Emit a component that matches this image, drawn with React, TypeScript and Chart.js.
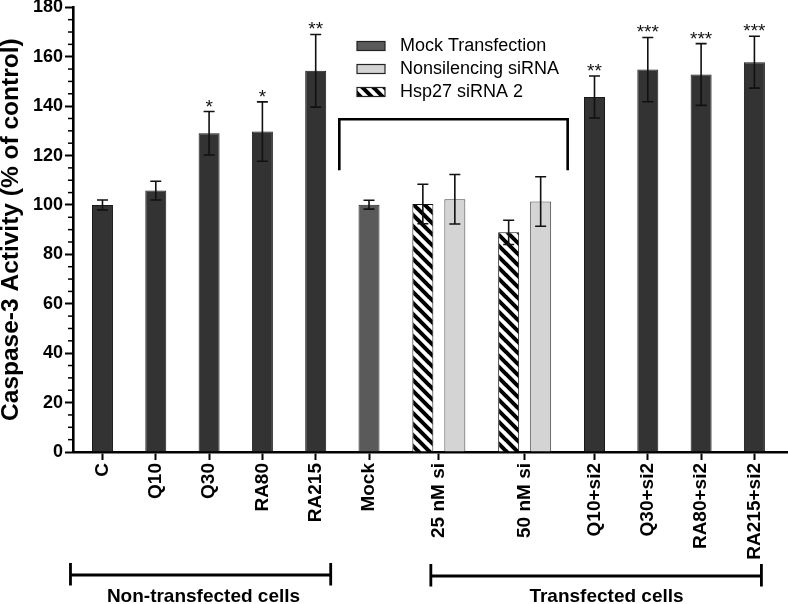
import { useEffect, useRef } from 'react';
import { Chart, registerables, CategoryScale } from 'chart.js';

Chart.register(...registerables);

// ---------------- data ----------------
const categories = ['C', 'Q10', 'Q30', 'RA80', 'RA215', 'Mock', '25 nM si', '50 nM si', 'Q10+si2', 'Q30+si2', 'RA80+si2', 'RA215+si2'];
const treatmentMeans = [100, 105.8, 129, 129.7, 154.3, null, null, null, 143.7, 154.8, 152.8, 157.8];
const treatmentErrors = [2, 3.8, 8.8, 12, 14.7, null, null, null, 8.5, 13, 12.5, 10.5];
const mockMeans = [null, null, null, null, null, 100.1, null, null, null, null, null, null];
const mockErrors = [null, null, null, null, null, 1.8, null, null, null, null, null, null];
const hsp27Means = [null, null, null, null, null, null, 100.4, 88.9, null, null, null, null];
const hsp27Errors = [null, null, null, null, null, null, 8, 4.9, null, null, null, null];
const nonsilMeans = [null, null, null, null, null, null, 102.3, 101.4, null, null, null, null];
const nonsilErrors = [null, null, null, null, null, null, 10, 10, null, null, null, null];
const significance = ['', '', '*', '*', '**', '', '', '', '**', '***', '***', '***'];
const legendLabels = ['Mock Transfection', 'Nonsilencing siRNA', 'Hsp27 siRNA 2'];
const groupLabels = ['Non-transfected cells', 'Transfected cells'];
const yTitle = 'Caspase-3 Activity (% of control)';

const FONT = "'Liberation Sans', Arial, sans-serif";

// Category scale with uneven spacing between categories
class GappedCategoryScale extends CategoryScale {
  static id = 'gappedCategory';
  getPixelForValue(value: any) {
    let v: any = value;
    if (typeof v !== 'number') v = (this as any).parse(v);
    if (v === null || v === undefined || Number.isNaN(v)) return NaN;
    const o: any = this.options;
    const gaps: number[] = o.gaps || [];
    const n = this.getLabels().length;
    const cum: number[] = [0];
    for (let i = 1; i < n; i++) cum.push(cum[i - 1] + (gaps[i - 1] ?? 1));
    const total = o.padStart + cum[n - 1] + o.padEnd;
    const i0 = Math.max(0, Math.min(n - 1, Math.floor(v)));
    const frac = v - i0;
    const next = i0 + 1 < n ? cum[i0 + 1] : cum[i0] + 1;
    const u = cum[i0] + frac * (next - cum[i0]);
    return this.getPixelForDecimal((o.padStart + u) / total);
  }
}
Chart.register(GappedCategoryScale as any);

function makeHatch(): CanvasPattern | string {
  const s = 11;
  const c = document.createElement('canvas');
  c.width = s;
  c.height = s;
  const g = c.getContext('2d');
  if (!g) return '#000';
  g.fillStyle = '#fff';
  g.fillRect(0, 0, s, s);
  g.strokeStyle = '#000';
  g.lineWidth = 4;
  g.beginPath();
  for (let k = -1; k <= 1; k++) {
    g.moveTo(-1, k * s - 1);
    g.lineTo(s + 1, k * s + s + 1);
  }
  g.stroke();
  return g.createPattern(c, 'repeat') || '#000';
}

export default function App() {
  const ref = useRef<HTMLCanvasElement>(null);

  useEffect(() => {
    if (!ref.current) return;
    const hatch = makeHatch();
    const errorSets = [treatmentErrors, mockErrors, hsp27Errors, nonsilErrors];

    const overlay = {
      id: 'overlay',
      afterDatasetsDraw(chart: any) {
        const ctx = chart.ctx as CanvasRenderingContext2D;
        const y = chart.scales.y;
        const x = chart.scales.x;
        ctx.save();
        // error bars
        ctx.strokeStyle = '#111';
        ctx.lineWidth = 1.6;
        chart.data.datasets.forEach((ds: any, d: number) => {
          const meta = chart.getDatasetMeta(d);
          ds.data.forEach((m: number | null, j: number) => {
            const e = errorSets[d][j];
            if (m === null || e === null) return;
            const bar = meta.data[j];
            const yt = y.getPixelForValue(m + e);
            const yb = y.getPixelForValue(m - e);
            ctx.beginPath();
            ctx.moveTo(bar.x, yt);
            ctx.lineTo(bar.x, yb);
            ctx.moveTo(bar.x - 5.5, yt);
            ctx.lineTo(bar.x + 5.5, yt);
            ctx.moveTo(bar.x - 5.5, yb);
            ctx.lineTo(bar.x + 5.5, yb);
            ctx.stroke();
          });
        });
        // significance stars
        const meta0 = chart.getDatasetMeta(0);
        ctx.fillStyle = '#111';
        ctx.font = `19px ${FONT}`;
        ctx.textAlign = 'center';
        ctx.textBaseline = 'alphabetic';
        significance.forEach((s, j) => {
          const m = treatmentMeans[j];
          const e = treatmentErrors[j];
          if (!s || m === null || e === null) return;
          const bar = meta0.data[j];
          ctx.fillText(s, bar.x, y.getPixelForValue(m + e) + 1);
        });
        // minor ticks on y axis
        ctx.strokeStyle = '#000';
        ctx.lineWidth = 1.5;
        const left = chart.chartArea.left;
        for (let v = 5; v < 180; v += 5) {
          if (v % 20 === 0) continue;
          const py = y.getPixelForValue(v);
          ctx.beginPath();
          ctx.moveTo(left - 5, py);
          ctx.lineTo(left, py);
          ctx.stroke();
        }
        // bracket over mock / siRNA controls
        ctx.lineWidth = 2.6;
        const bx1 = x.getPixelForValue(5) - 29.7;
        const bx2 = x.getPixelForValue(7) + 43;
        const byTop = y.getPixelForValue(134.7);
        const byEnd = y.getPixelForValue(114);
        ctx.beginPath();
        ctx.moveTo(bx1, byEnd);
        ctx.lineTo(bx1, byTop);
        ctx.lineTo(bx2, byTop);
        ctx.lineTo(bx2, byEnd);
        ctx.stroke();
        // bottom group brackets
        ctx.lineWidth = 2.8;
        const groups = [
          { x1: x.getPixelForValue(0) - 32, x2: x.getPixelForValue(4) + 15, yl: 575, cx: 203.5, label: groupLabels[0] },
          { x1: x.getPixelForValue(6) - 8, x2: x.getPixelForValue(11) + 7, yl: 576, cx: 606.5, label: groupLabels[1] },
        ];
        ctx.font = `bold 19px ${FONT}`;
        ctx.fillStyle = '#000';
        groups.forEach((g) => {
          ctx.beginPath();
          ctx.moveTo(g.x1, g.yl);
          ctx.lineTo(g.x2, g.yl);
          ctx.moveTo(g.x1, g.yl - 12);
          ctx.lineTo(g.x1, g.yl + 10.5);
          ctx.moveTo(g.x2, g.yl - 12);
          ctx.lineTo(g.x2, g.yl + 10.5);
          ctx.stroke();
          ctx.fillText(g.label, g.cx, 602);
        });
        // legend
        const fills: (string | CanvasPattern)[] = ['#5a5a5a', '#d4d4d4', hatch];
        const rows = [46, 69, 92];
        ctx.font = `18px ${FONT}`;
        ctx.textAlign = 'left';
        ctx.textBaseline = 'middle';
        legendLabels.forEach((lab, i) => {
          ctx.fillStyle = fills[i];
          ctx.fillRect(357, rows[i] - 4.5, 28, 9);
          ctx.lineWidth = 1.2;
          ctx.strokeStyle = '#222';
          ctx.strokeRect(357, rows[i] - 4.5, 28, 9);
          ctx.fillStyle = '#000';
          ctx.fillText(lab, 400, rows[i]);
        });
        ctx.restore();
      },
    };

    const chart = new Chart(ref.current, {
      type: 'bar',
      data: {
        labels: categories,
        datasets: [
          { label: 'Treatment', data: treatmentMeans, backgroundColor: '#333333', borderColor: '#1a1a1a', borderWidth: 1 },
          { label: legendLabels[0], data: mockMeans, backgroundColor: '#5a5a5a', borderColor: '#222', borderWidth: 1 },
          { label: legendLabels[2], data: hsp27Means, backgroundColor: hatch as any, borderColor: '#111', borderWidth: 1 },
          { label: legendLabels[1], data: nonsilMeans, backgroundColor: '#d4d4d4', borderColor: '#444', borderWidth: 1 },
        ] as any,
      },
      options: {
        animation: false,
        responsive: false,
        events: [],
        layout: { padding: { top: 7.3, left: 0, right: 0, bottom: 0 } },
        datasets: {
          bar: { skipNull: true, categoryPercentage: 1.2, barPercentage: 0.656, maxBarThickness: 21 } as any,
        },
        plugins: { legend: { display: false }, tooltip: { enabled: false } },
        scales: {
          x: {
            type: 'gappedCategory' as any,
            gaps: [1, 1, 1, 1, 1, 1.31, 1.61, 1.31, 1, 1, 1],
            padStart: 0.553,
            padEnd: 0.63,
            border: { display: true, color: '#000', width: 2.6 },
            grid: { display: true, offset: false, drawOnChartArea: false, drawTicks: true, tickLength: 8, tickWidth: 2, tickColor: '#000' },
            ticks: {
              autoSkip: false,
              maxRotation: 90,
              minRotation: 90,
              padding: 3,
              color: '#000',
              font: { family: FONT, size: 19, weight: 'bold' },
            },
            afterFit: (s: any) => {
              s.height = 152;
              s.paddingLeft = 0;
              s.paddingRight = 0;
            },
          } as any,
          y: {
            min: 0,
            max: 180,
            border: { display: true, color: '#000', width: 2.6 },
            grid: { display: true, drawOnChartArea: false, drawTicks: true, tickLength: 8, tickWidth: 2, tickColor: '#000' },
            ticks: {
              stepSize: 20,
              padding: 2,
              color: '#000',
              font: { family: FONT, size: 18, weight: 'bold' },
            },
            title: {
              display: true,
              text: yTitle,
              color: '#000',
              padding: { top: -1, bottom: 0 },
              font: { family: FONT, size: 24.5, weight: 'bold', lineHeight: 1 },
            },
            afterFit: (s: any) => {
              s.width = 73;
              s.paddingTop = 0;
              s.paddingBottom = 0;
            },
          } as any,
        },
      },
      plugins: [overlay],
    });
    return () => chart.destroy();
  }, []);

  return (
    <div style={{ position: 'absolute', left: 0, top: 0, width: 788, height: 604, background: '#fff' }}>
      <canvas ref={ref} width={788} height={604} style={{ width: 788, height: 604, display: 'block' }} />
    </div>
  );
}
